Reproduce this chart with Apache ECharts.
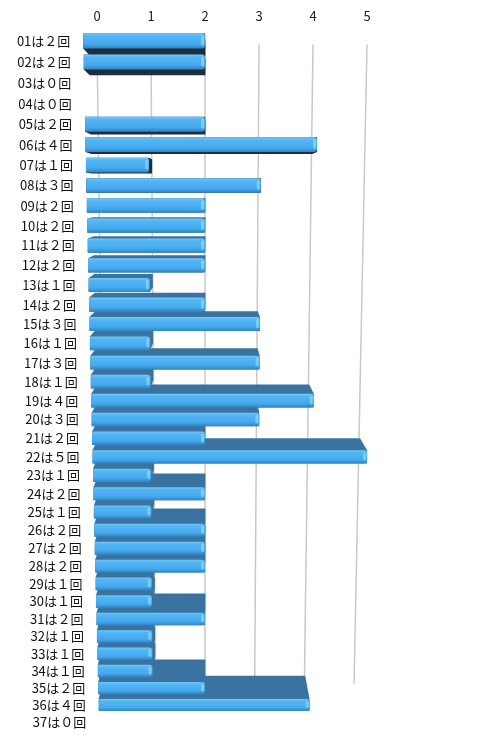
<!DOCTYPE html>
<html>
<head>
<meta charset="utf-8">
<script src="https://cdn.jsdelivr.net/npm/echarts@6/dist/echarts.min.js"></script>
<style>
  html, body { margin: 0; padding: 0; background: #fff; }
  #main { width: 500px; height: 741px; }
</style>
</head>
<body>
<div id="main"></div>
<script>
// 番号ごとの出現回数
const categories = ['01','02','03','04','05','06','07','08','09','10','11','12','13','14','15','16','17','18','19',
  '20','21','22','23','24','25','26','27','28','29','30','31','32','33','34','35','36','37'];
const counts = [2,2,0,0,2,4,1,3,2,2,2,2,1,2,3,1,3,1,4,3,2,5,1,2,1,2,2,2,1,1,2,1,1,1,2,4,0];
const tickValues = [0,1,2,3,4,5];

const BAR_START = -0.15;   // 棒の左端（少し0より左）
const DEPTH = 0.046;       // 奥行き
const FONT = '"Noto Sans CJK JP", "Noto Sans", sans-serif';

const zen = n => String(n).replace(/[0-9]/g, d => String.fromCharCode(0xFF10 + Number(d)));

// 遠近: 上の行ほど間隔が広い
function warpY(cs, y) {
  const first = cs.y + cs.height / categories.length / 2;
  const u = y - first;
  return y + 0.1128 * u - 0.000166 * u * u;
}

function frontBox(params, api) {
  const cs = params.coordSys;
  const i = api.value(1);
  const v = api.value(0);
  const c0 = api.coord([BAR_START, i]);
  const c1 = api.coord([v, i]);
  const pivot = api.coord([2, i])[0];
  const t = (c0[1] - cs.y) / cs.height;
  const fL = 1.05 - 0.14 * t;
  const fR = 1.05 - 0.085 * t;
  const y = warpY(cs, c0[1]);
  const band = api.size([0, 1])[1];
  const h = (warpY(cs, c0[1] + band / 2) - warpY(cs, c0[1] - band / 2)) * 0.72;
  return {
    x0: pivot + (c0[0] - pivot) * fL,
    x1: pivot + (c1[0] - pivot) * fR,
    y0: y - h / 2,
    y1: y + h / 2,
    yc: y,
    vp: [pivot + 10, cs.y + cs.height * 0.23]
  };
}

function hull(pts) {
  pts = pts.slice().sort((a, b) => a[0] - b[0] || a[1] - b[1]);
  const cross = (o, a, b) => (a[0] - o[0]) * (b[1] - o[1]) - (a[1] - o[1]) * (b[0] - o[0]);
  const lower = [], upper = [];
  for (const p of pts) {
    while (lower.length >= 2 && cross(lower[lower.length - 2], lower[lower.length - 1], p) <= 0) lower.pop();
    lower.push(p);
  }
  for (let k = pts.length - 1; k >= 0; k--) {
    const p = pts[k];
    while (upper.length >= 2 && cross(upper[upper.length - 2], upper[upper.length - 1], p) <= 0) upper.pop();
    upper.push(p);
  }
  upper.pop(); lower.pop();
  return lower.concat(upper);
}

const chart = echarts.init(document.getElementById('main'), null, { renderer: 'canvas' });

const data = counts.map((c, i) => [c, i]);

const option = {
  animation: false,
  backgroundColor: '#fff',
  grid: { left: 97, right: 133, top: 31.5, bottom: 9.5 },
  xAxis: {
    type: 'value',
    position: 'top',
    min: 0,
    max: 5,
    interval: 1,
    axisLine: { show: false },
    axisTick: { show: false },
    splitLine: { show: false },
    axisLabel: { margin: 9, fontSize: 13, color: '#222', fontFamily: FONT }
  },
  yAxis: {
    type: 'category',
    inverse: true,
    data: categories,
    show: false
  },
  series: [
    // 奥の目盛線
    {
      type: 'custom',
      silent: true,
      z: 1,
      encode: { x: 0, y: 1 },
      data: tickValues.map(v => [v, 0]),
      renderItem(params, api) {
        const cs = params.coordSys;
        const x = api.coord([api.value(0), 0])[0];
        const pivot = api.coord([2, 0])[0];
        return {
          type: 'line',
          shape: { x1: x, y1: cs.y + 13, x2: pivot + (x - pivot) * 0.92, y2: cs.y + cs.height - 48 },
          style: { stroke: '#c8c8c8', lineWidth: 1.5 }
        };
      }
    },
    // 棒の側面（暗い面）
    {
      type: 'custom',
      silent: true,
      z: 2,
      encode: { x: 0, y: 1 },
      data: data,
      renderItem(params, api) {
        if (api.value(0) <= 0) return;
        const b = frontBox(params, api);
        const corners = [[b.x0, b.y0], [b.x1, b.y0], [b.x1, b.y1], [b.x0, b.y1]];
        const back = corners.map(p => [p[0] + (b.vp[0] - p[0]) * DEPTH, p[1] + (b.vp[1] - p[1]) * DEPTH]);
        const below = b.yc < b.vp[1];
        return {
          type: 'polygon',
          shape: { points: hull(corners.concat(back)) },
          style: { fill: below ? '#1e2e3f' : '#3a73a0' }
        };
      }
    },
    // 棒の正面と項目名
    {
      type: 'custom',
      silent: true,
      z: 3,
      encode: { x: 0, y: 1 },
      data: data,
      renderItem(params, api) {
        const b = frontBox(params, api);
        const i = api.value(1);
        const children = [{
          type: 'text',
          style: {
            text: categories[i] + 'は' + zen(api.value(0)) + '回',
            x: b.x0 - 13,
            y: b.yc,
            align: 'right',
            verticalAlign: 'middle',
            font: '13px ' + FONT,
            fill: '#111'
          }
        }];
        if (api.value(0) > 0) {
          children.push({
            type: 'rect',
            shape: { x: b.x0, y: b.y0, width: b.x1 - b.x0, height: b.y1 - b.y0, r: [1, 3, 3, 1] },
            style: {
              fill: new echarts.graphic.LinearGradient(0, 0, 0, 1, [
                { offset: 0, color: '#74c9fb' },
                { offset: 0.18, color: '#52b6f4' },
                { offset: 0.7, color: '#45a9ee' },
                { offset: 1, color: '#2f84c4' }
              ])
            }
          });
          children.push({
            type: 'rect',
            shape: { x: b.x1 - 4, y: b.y0 + 2, width: 3, height: b.y1 - b.y0 - 5, r: 1.5 },
            style: { fill: 'rgba(160,230,255,0.55)' }
          });
        }
        return { type: 'group', children: children };
      }
    }
  ]
};

chart.setOption(option);
</script>
</body>
</html>
